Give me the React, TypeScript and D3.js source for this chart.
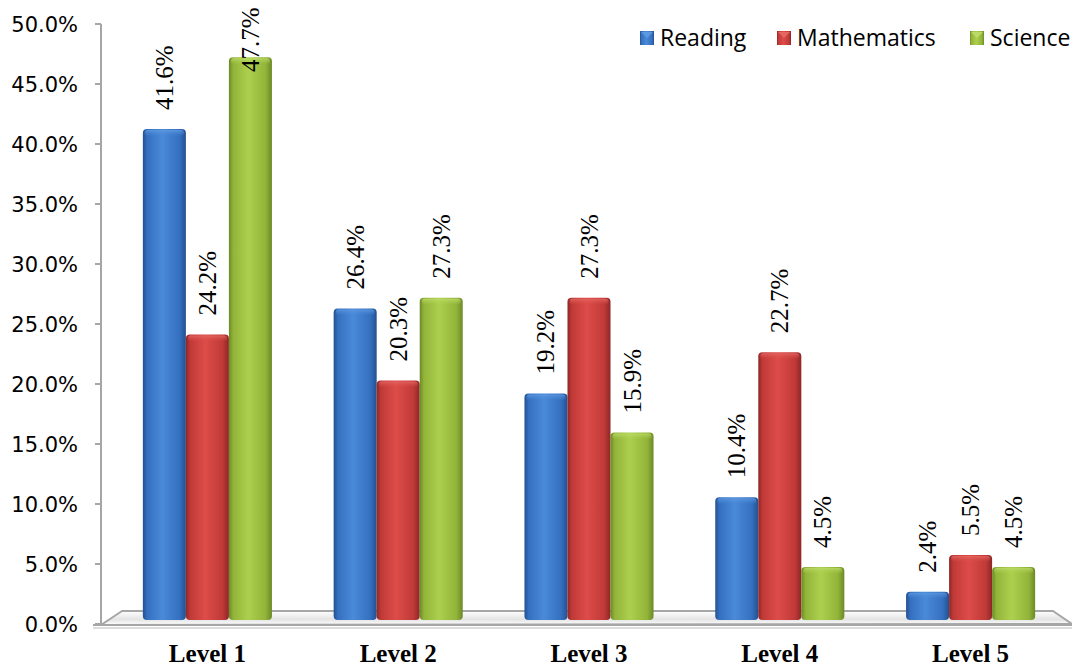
import React from "react";
import * as d3 from "d3";

const categories = ["Level 1", "Level 2", "Level 3", "Level 4", "Level 5"];
const seriesNames = ["Reading", "Mathematics", "Science"];
const reading = [41.6, 26.4, 19.2, 10.4, 2.4];
const mathematics = [24.2, 20.3, 27.3, 22.7, 5.5];
const science = [47.7, 27.3, 15.9, 4.5, 4.5];
const yTicks = [0, 5, 10, 15, 20, 25, 30, 35, 40, 45, 50];

const seriesValues = [reading, mathematics, science];
const palettes = [
  { dark: "#24508f", mid: "#3570c0", light: "#4a8ad8", top: "#5f9be0" },
  { dark: "#8e2626", mid: "#c03a38", light: "#dd4c48", top: "#e56a66" },
  { dark: "#6c8a26", mid: "#92b43a", light: "#acd04e", top: "#bedc6c" },
];

const W = 1072;
const H = 668;

export default function App() {
  const tickY = d3.scaleLinear().domain([0, 50]).range([624, 24]);
  const barY = d3.scaleLinear().domain([0, 50]).range([620, 30]);
  const x0 = d3
    .scaleBand<string>()
    .domain(categories)
    .range([112, 1066])
    .paddingInner(0.3235)
    .paddingOuter(0.3235 / 2);
  const x1 = d3
    .scaleBand<string>()
    .domain(seriesNames)
    .range([0, x0.bandwidth()]);
  const fmt = (v: number) => v.toFixed(1) + "%";

  const axisX = 101;
  const legendX = [640, 777, 970];

  return (
    <svg
      width={W}
      height={H}
      style={{ position: "absolute", left: 0, top: 0, background: "#fff" }}
    >
      <defs>
        {palettes.map((p, i) => (
          <linearGradient key={i} id={`g${i}`} x1="0" x2="1" y1="0" y2="0">
            <stop offset="0" stopColor={p.dark} />
            <stop offset="0.1" stopColor={p.mid} />
            <stop offset="0.45" stopColor={p.light} />
            <stop offset="0.85" stopColor={p.mid} />
            <stop offset="1" stopColor={p.dark} />
          </linearGradient>
        ))}
        {palettes.map((p, i) => (
          <linearGradient key={"t" + i} id={`t${i}`} x1="0" x2="0" y1="0" y2="1">
            <stop offset="0" stopColor={p.top} />
            <stop offset="1" stopColor={p.light} stopOpacity={0} />
          </linearGradient>
        ))}
        <linearGradient id="floorShade" x1="0" x2="0" y1="0" y2="1">
          <stop offset="0" stopColor="#ffffff" />
          <stop offset="0.6" stopColor="#e4e4e4" />
          <stop offset="1" stopColor="#ffffff" />
        </linearGradient>
      </defs>

      {/* floor */}
      <polygon
        points={`${axisX},625 122,611 1053,611 1072,624`}
        fill="url(#floorShade)"
        stroke="#a6a6a6"
        strokeWidth={2}
        strokeLinejoin="round"
      />
      <line x1={93} x2={1072} y1={625} y2={625} stroke="#a6a6a6" strokeWidth={2} />
      <line x1={93} x2={1072} y1={628} y2={628} stroke="#d0d0d0" strokeWidth={1.5} />

      {/* axis */}
      <line x1={axisX} x2={axisX} y1={24} y2={625} stroke="#a6a6a6" strokeWidth={2} />
      {yTicks.map((t) => (
        <g key={t}>
          <line
            x1={95}
            x2={axisX}
            y1={tickY(t)}
            y2={tickY(t)}
            stroke="#a6a6a6"
            strokeWidth={2}
          />
          <text
            x={78}
            y={tickY(t)}
            dy="0.36em"
            textAnchor="end"
            fontFamily="DejaVu Sans"
            fontSize={21}
            fill="#000"
          >
            {fmt(t)}
          </text>
        </g>
      ))}

      {/* bars */}
      {categories.map((c, ci) => (
        <g key={c} transform={`translate(${x0(c)},0)`}>
          {seriesNames.map((s, si) => {
            const v = seriesValues[si][ci];
            const bx = x1(s)!;
            const bw = x1.bandwidth();
            const top = barY(v);
            const base = barY(0);
            return (
              <g key={s}>
                <rect
                  x={bx}
                  y={top}
                  width={bw}
                  height={base - top}
                  rx={4}
                  ry={4}
                  fill={`url(#g${si})`}
                />
                <rect
                  x={bx + 2}
                  y={top + 1}
                  width={bw - 4}
                  height={6}
                  rx={3}
                  fill={`url(#t${si})`}
                  opacity={0.8}
                />
              </g>
            );
          })}
        </g>
      ))}

      {/* data labels */}
      {categories.map((c, ci) =>
        seriesNames.map((s, si) => {
          const v = seriesValues[si][ci];
          const cx = x0(c)! + x1(s)! + x1.bandwidth() / 2;
          const ly = Math.max(barY(v) - 19, 72);
          return (
            <text
              key={c + s}
              transform={`translate(${cx},${ly}) rotate(-90)`}
              dy="0.34em"
              textAnchor="start"
              fontFamily="'Liberation Serif', 'Times New Roman', serif"
              fontSize={25}
              fill="#000"
            >
              {fmt(v)}
            </text>
          );
        })
      )}

      {/* category labels */}
      {categories.map((c) => (
        <text
          key={c}
          x={x0(c)! + x0.bandwidth() / 2}
          y={662}
          textAnchor="middle"
          fontFamily="'Liberation Serif', 'Times New Roman', serif"
          fontWeight="bold"
          fontSize={25}
          fill="#000"
        >
          {c}
        </text>
      ))}

      {/* legend */}
      {seriesNames.map((s, si) => (
        <g key={s} transform={`translate(${legendX[si]},31)`}>
          <rect width={14} height={14} fill={`url(#g${si})`} />
          <polygon points="1,1 13,1 7,7" fill={palettes[si].top} opacity={0.9} />
          <text
            x={20}
            y={7}
            dy="0.36em"
            fontFamily="Open Sans"
            fontSize={23}
            fill="#000"
          >
            {s}
          </text>
        </g>
      ))}
    </svg>
  );
}
